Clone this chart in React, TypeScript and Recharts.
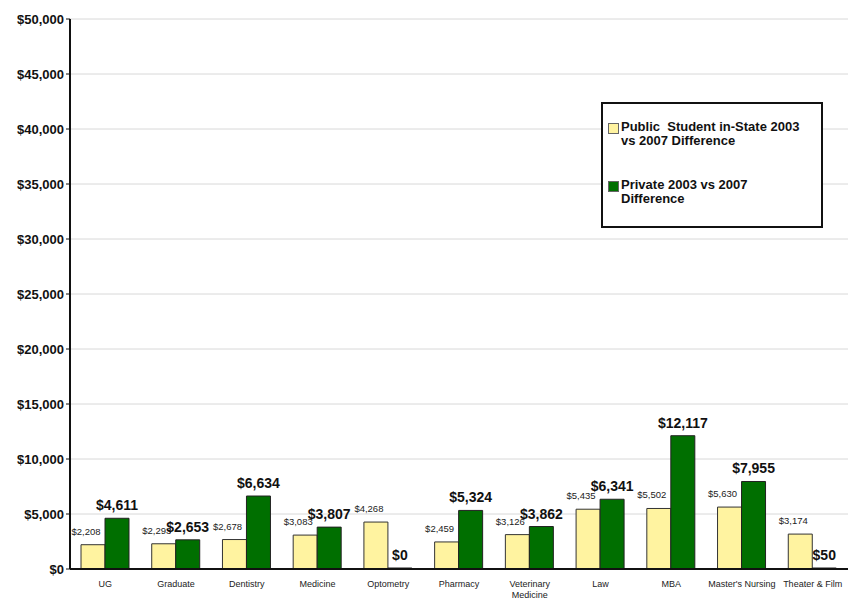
import React from "react"
import { BarChart, Bar, XAxis, YAxis, CartesianGrid, LabelList } from "recharts"

const categories = [
  "UG",
  "Graduate",
  "Dentistry",
  "Medicine",
  "Optometry",
  "Pharmacy",
  "Veterinary Medicine",
  "Law",
  "MBA",
  "Master's Nursing",
  "Theater & Film",
]
const publicDiff = [2208, 2293, 2678, 3083, 4268, 2459, 3126, 5435, 5502, 5630, 3174]
const privateDiff = [4611, 2653, 6634, 3807, 0, 5324, 3862, 6341, 12117, 7955, 50]
const yTicks = [0, 5000, 10000, 15000, 20000, 25000, 30000, 35000, 40000, 45000, 50000]

const PUBLIC_COLOR = "#FFF3A0"
const PRIVATE_COLOR = "#006F00"
const FONT = "'Liberation Sans', Arial, sans-serif"

const data = categories.map((name, i) => ({
  name,
  pub: publicDiff[i],
  priv: privateDiff[i],
}))

const money = (v: number) => "$" + v.toLocaleString("en-US")

function CategoryTick({ x, y, payload }: any) {
  const words = payload.value === "Veterinary Medicine" ? ["Veterinary", "Medicine"] : [payload.value]
  return (
    <text x={x} y={y + 10} textAnchor="middle" fontFamily={FONT} fontSize={9} fill="#222">
      {words.map((w: string, i: number) => (
        <tspan key={i} x={x} dy={i === 0 ? 0 : 11}>
          {w}
        </tspan>
      ))}
    </text>
  )
}

function PublicLabel({ x, y, width, value }: any) {
  return (
    <text x={x + width / 2 - 7} y={y - 10} textAnchor="middle" fontFamily={FONT} fontSize={9.5} fill="#222">
      {money(value)}
    </text>
  )
}

function PrivateLabel({ x, y, width, value }: any) {
  return (
    <text x={x + width / 2} y={y - 8} textAnchor="middle" fontFamily={FONT} fontSize={14} fontWeight="bold" fill="#111">
      {money(value)}
    </text>
  )
}

function LegendBox() {
  const item = (color: string, lines: string[]) => (
    <div style={{ display: "flex", alignItems: "flex-start", lineHeight: "14px" }}>
      <div style={{ width: 9, height: 9, background: color, border: "1px solid #666", marginTop: 3, marginRight: 2, flexShrink: 0 }} />
      <div>
        {lines.map((l, i) => (
          <div key={i} style={{ whiteSpace: "pre" }}>{l}</div>
        ))}
      </div>
    </div>
  )
  return (
    <div
      style={{
        position: "absolute",
        left: 601,
        top: 102,
        width: 222,
        height: 126,
        border: "2px solid #111",
        background: "#fff",
        boxSizing: "border-box",
        padding: "16px 0 0 5px",
        fontFamily: FONT,
        fontWeight: "bold",
        fontSize: 13,
        color: "#111",
      }}
    >
      {item(PUBLIC_COLOR, ["Public  Student in-State 2003", "vs 2007 Difference"])}
      <div style={{ height: 30 }} />
      {item(PRIVATE_COLOR, ["Private 2003 vs 2007", "Difference"])}
    </div>
  )
}

export default function App() {
  return (
    <div style={{ position: "absolute", left: 0, top: 0, width: 854, height: 600, background: "#fff" }}>
      <BarChart
        width={854}
        height={600}
        data={data}
        margin={{ top: 19, right: 6, left: 0, bottom: 0 }}
        barGap={0}
        barCategoryGap="30%"
      >
        <CartesianGrid vertical={false} stroke="#d8d8d8" />
        <XAxis
          dataKey="name"
          height={31}
          interval={0}
          tick={<CategoryTick />}
          tickLine={false}
          axisLine={{ stroke: "#111", strokeWidth: 2 }}
        />
        <XAxis xAxisId="top" orientation="top" dataKey="name" height={0} tick={false} tickLine={false} axisLine={{ stroke: "#111", strokeWidth: 2 }} />
        <YAxis
          domain={[0, 50000]}
          ticks={yTicks}
          width={70}
          tickFormatter={money}
          tick={{ fontFamily: FONT, fontSize: 13, fontWeight: "bold", fill: "#111" }}
          tickLine={{ stroke: "#111" }}
          tickSize={4}
          axisLine={{ stroke: "#111", strokeWidth: 2 }}
          interval={0}
        />
        <YAxis yAxisId="right" orientation="right" width={0} domain={[0, 50000]} tick={false} tickLine={false} axisLine={{ stroke: "#111", strokeWidth: 2 }} />
        <Bar dataKey="pub" name="Public  Student in-State 2003 vs 2007 Difference" fill={PUBLIC_COLOR} stroke="#333" strokeWidth={1} barSize={24} isAnimationActive={false}>
          <LabelList dataKey="pub" content={<PublicLabel />} />
        </Bar>
        <Bar dataKey="priv" name="Private 2003 vs 2007 Difference" fill={PRIVATE_COLOR} stroke="#222" strokeWidth={1} barSize={24} minPointSize={1} isAnimationActive={false}>
          <LabelList dataKey="priv" content={<PrivateLabel />} />
        </Bar>
      </BarChart>
      <LegendBox />
    </div>
  )
}
